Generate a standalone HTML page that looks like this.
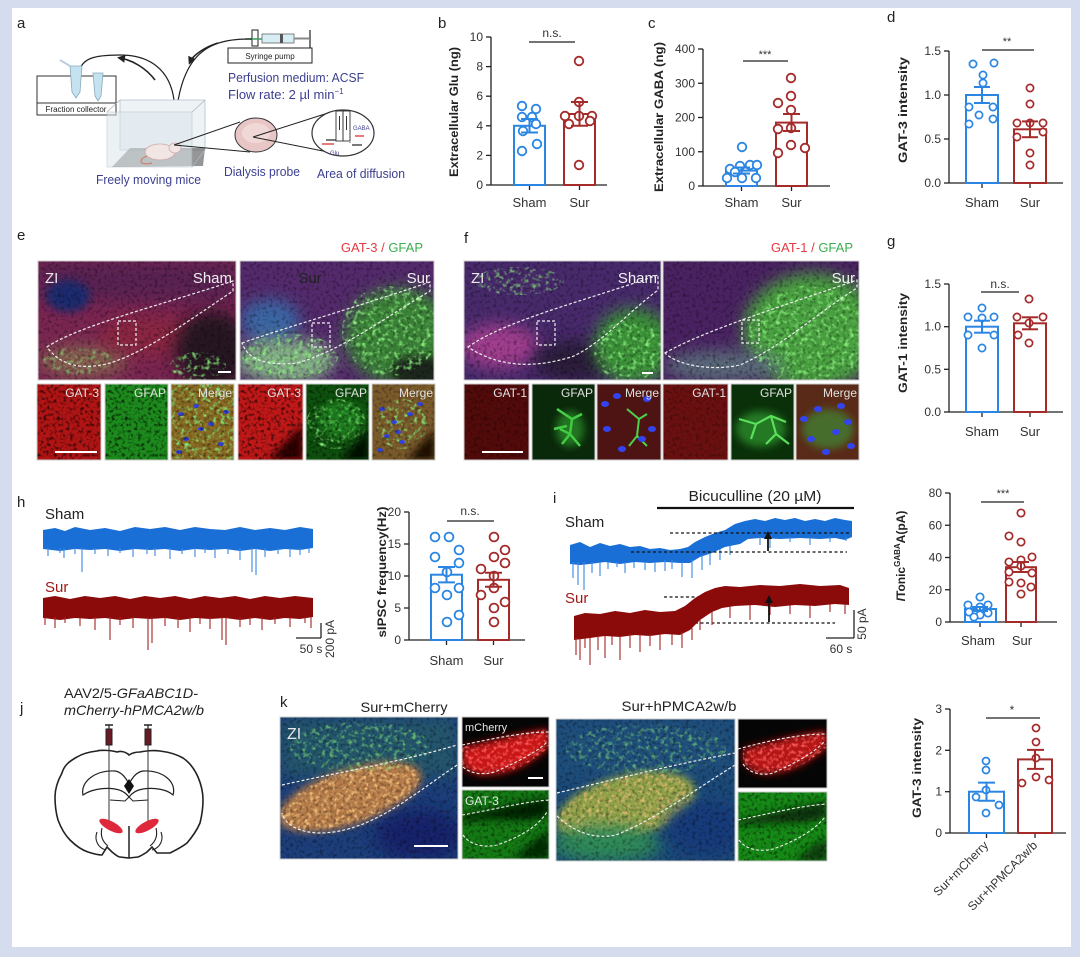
<!DOCTYPE html>
<html><head><meta charset="utf-8">
<style>
html,body{margin:0;padding:0;background:#d5dcee;}
svg{display:block;}
text{font-family:"Liberation Sans",Arial,sans-serif;}
</style></head>
<body>
<svg width="1080" height="957" viewBox="0 0 1080 957" xmlns="http://www.w3.org/2000/svg">
<defs>
<filter id="bl" x="-60%" y="-60%" width="220%" height="220%"><feGaussianBlur stdDeviation="8"/></filter>
<filter id="bl4" x="-60%" y="-60%" width="220%" height="220%"><feGaussianBlur stdDeviation="4"/></filter>
<filter id="spk" x="0" y="0" width="1" height="1"><feTurbulence type="fractalNoise" baseFrequency="0.3" numOctaves="2" seed="2"/><feColorMatrix type="matrix" values="0 0 0 0 0 0 0 0 0 0 0 0 0 0 0 -3 0 0 0 1.55"/></filter>
<filter id="gsp" x="0" y="0" width="1" height="1"><feTurbulence type="fractalNoise" baseFrequency="0.22" numOctaves="2" seed="7"/><feColorMatrix type="matrix" values="0 0 0 0 0.25 0 0 0 0 0.85 0 0 0 0 0.2 3.2 0 0 0 -1.6"/><feComposite in2="SourceAlpha" operator="in"/></filter>
<filter id="rsp" x="0" y="0" width="1" height="1"><feTurbulence type="fractalNoise" baseFrequency="0.28" numOctaves="2" seed="11"/><feColorMatrix type="matrix" values="0 0 0 0 0.95 0 0 0 0 0.1 0 0 0 0 0.1 3.2 0 0 0 -1.5"/><feComposite in2="SourceAlpha" operator="in"/></filter>
<filter id="osp" x="0" y="0" width="1" height="1"><feTurbulence type="fractalNoise" baseFrequency="0.25" numOctaves="2" seed="5"/><feColorMatrix type="matrix" values="0 0 0 0 0.95 0 0 0 0 0.55 0 0 0 0 0.2 3.2 0 0 0 -1.5"/><feComposite in2="SourceAlpha" operator="in"/></filter>
<marker id="ah" markerWidth="8" markerHeight="8" refX="5" refY="4" orient="auto" markerUnits="userSpaceOnUse"><path d="M0,0 L8,4 L0,8 Z" fill="#222"/></marker>
</defs>

<rect x="0" y="0" width="1080" height="957" fill="#d5dcee"/>
<rect x="12" y="8" width="1059" height="939" fill="#ffffff"/>

<!-- ================= Panel a ================= -->
<text x="17" y="28" font-size="15" fill="#222">a</text>
<rect x="228" y="48" width="84" height="15" fill="#fff" stroke="#222" stroke-width="1"/>
<text x="270" y="59" font-size="8" text-anchor="middle" fill="#222">Syringe pump</text>
<line x1="310" y1="30" x2="310" y2="48" stroke="#222" stroke-width="1.2"/>
<rect x="262" y="34" width="32" height="9" fill="#d8eef5" stroke="#666" stroke-width="0.8"/>
<rect x="280" y="34" width="3" height="9" fill="#555"/>
<line x1="294" y1="38.5" x2="309" y2="38.5" stroke="#888" stroke-width="2"/>
<rect x="252" y="30" width="6" height="16" fill="none" stroke="#222" stroke-width="1"/>
<line x1="245" y1="39" x2="262" y2="39" stroke="#3a9a5a" stroke-width="1.5"/>
<text x="228" y="82" font-size="13" fill="#3b3f8f" textLength="136" lengthAdjust="spacingAndGlyphs">Perfusion medium: ACSF</text>
<text x="228" y="99" font-size="13" fill="#3b3f8f">Flow rate: 2 µl min<tspan font-size="8" dy="-5">−1</tspan></text>
<path d="M252,39 C200,38 176,60 174,145" fill="none" stroke="#222" stroke-width="1.2"/>
<path d="M79,72 C82,58 95,55 120,55 C150,55 170,70 174,100" fill="none" stroke="#222" stroke-width="1.2"/>
<path d="M155,80 C146,68 132,60 120,58" fill="none" stroke="#222" stroke-width="1.6" marker-end="url(#ah)"/>
<path d="M218,43 C205,47 193,55 190,62" fill="none" stroke="#222" stroke-width="1.6" marker-end="url(#ah)"/>
<rect x="37" y="76" width="79" height="39" fill="#fff" stroke="#333" stroke-width="1"/>
<line x1="37" y1="103" x2="116" y2="103" stroke="#333" stroke-width="1"/>
<text x="76" y="112" font-size="8" text-anchor="middle" fill="#222">Fraction collector</text>
<path d="M70,66 L82,66 L80,92 L76,98 L72,92 Z" fill="#c4e2f0" stroke="#8ab" stroke-width="0.8"/>
<path d="M60,60 L70,66" stroke="#bcd" stroke-width="2"/>
<path d="M93,73 L103,73 L101,96 L98,101 L95,96 Z" fill="#c4e2f0" stroke="#8ab" stroke-width="0.8"/>
<polygon points="120,100 205,100 205,150 120,150" fill="#eef3f6" stroke="#b4c0cc" stroke-width="0.8"/>
<polygon points="130,148 205,148 203,166 112,167" fill="#6a6a6a" opacity="0.7"/>
<polygon points="107,112 192,112 192,167 107,167" fill="#dde6ec" opacity="0.55" stroke="#a8b6c2" stroke-width="0.8"/>
<line x1="107" y1="112" x2="120" y2="100" stroke="#a8b6c2" stroke-width="0.8"/>
<line x1="192" y1="112" x2="205" y2="100" stroke="#a8b6c2" stroke-width="0.8"/>
<line x1="192" y1="167" x2="205" y2="150" stroke="#a8b6c2" stroke-width="0.8"/>
<path d="M147,156 C137,160 140,166 152,163" fill="none" stroke="#d08070" stroke-width="1.2"/>
<ellipse cx="160" cy="152" rx="15" ry="8" fill="#f1e6e3" stroke="#caa" stroke-width="0.8"/>
<ellipse cx="175" cy="148" rx="6" ry="5" fill="#f1e6e3" stroke="#caa" stroke-width="0.8"/>
<line x1="174" y1="145" x2="240" y2="122" stroke="#222" stroke-width="1"/>
<line x1="174" y1="145" x2="250" y2="152" stroke="#222" stroke-width="1"/>
<ellipse cx="256" cy="135" rx="21" ry="17" fill="#e8c6c6" stroke="#333" stroke-width="1"/>
<ellipse cx="256" cy="133" rx="14" ry="10" fill="#f0d8d6"/>
<line x1="253" y1="137" x2="328" y2="113" stroke="#222" stroke-width="1"/>
<line x1="253" y1="137" x2="333" y2="153" stroke="#222" stroke-width="1"/>
<ellipse cx="343" cy="133" rx="31" ry="23" fill="#fff" stroke="#333" stroke-width="1.2"/>
<rect x="336" y="111" width="7" height="30" fill="none" stroke="#333" stroke-width="0.9"/>
<rect x="343" y="111" width="7" height="30" fill="none" stroke="#333" stroke-width="0.9"/>
<line x1="339.5" y1="116" x2="339.5" y2="130" stroke="#333" stroke-width="1"/>
<line x1="346.5" y1="130" x2="346.5" y2="116" stroke="#333" stroke-width="1"/>
<line x1="350" y1="130" x2="350" y2="143" stroke="#333" stroke-width="0.8" stroke-dasharray="1.5,1.5"/>
<line x1="326" y1="140" x2="336" y2="140" stroke="#222" stroke-width="1.2"/>
<line x1="322" y1="144" x2="334" y2="144" stroke="#d22" stroke-width="1.2"/>
<line x1="352" y1="145" x2="362" y2="145" stroke="#222" stroke-width="1.2"/>
<line x1="364" y1="136" x2="355" y2="136" stroke="#d22" stroke-width="1.2"/>
<text x="353" y="130" font-size="6" fill="#3b3f8f">GABA</text>
<text x="330" y="155" font-size="6" fill="#3b3f8f">Glu</text>
<text x="96" y="184" font-size="13" fill="#3b3f8f" textLength="105" lengthAdjust="spacingAndGlyphs">Freely moving mice</text>
<text x="224" y="176" font-size="13" fill="#3b3f8f" textLength="76" lengthAdjust="spacingAndGlyphs">Dialysis probe</text>
<text x="317" y="178" font-size="13" fill="#3b3f8f" textLength="88" lengthAdjust="spacingAndGlyphs">Area of diffusion</text>

<!-- ================= Panel b ================= -->
<text x="438" y="28" font-size="15" fill="#222">b</text>
<g stroke="#222" stroke-width="1.3">
<line x1="491" y1="37" x2="491" y2="185"/><line x1="491" y1="185" x2="607" y2="185"/>
<line x1="486" y1="185" x2="491" y2="185"/><line x1="486" y1="155.4" x2="491" y2="155.4"/><line x1="486" y1="125.8" x2="491" y2="125.8"/><line x1="486" y1="96.2" x2="491" y2="96.2"/><line x1="486" y1="66.6" x2="491" y2="66.6"/><line x1="486" y1="37" x2="491" y2="37"/>
<line x1="529.5" y1="185" x2="529.5" y2="190"/><line x1="579.5" y1="185" x2="579.5" y2="190"/>
<line x1="529" y1="42" x2="575" y2="42"/>
</g>
<g font-size="12" fill="#333" text-anchor="end">
<text x="483" y="189">0</text><text x="483" y="159.4">2</text><text x="483" y="129.8">4</text><text x="483" y="100.2">6</text><text x="483" y="70.6">8</text><text x="483" y="41">10</text>
</g>
<text x="552" y="37" font-size="12" fill="#333" text-anchor="middle">n.s.</text>
<rect x="514" y="125.8" width="31" height="59.2" fill="none" stroke="#2a86e2" stroke-width="2"/>
<rect x="564" y="114" width="31" height="71" fill="none" stroke="#a52a2a" stroke-width="2"/>
<g fill="#fff" stroke="#2a86e2" stroke-width="1.8">
<circle cx="522" cy="106" r="4.3"/><circle cx="536" cy="109" r="4.3"/><circle cx="522" cy="117" r="4.3"/><circle cx="532" cy="117" r="4.3"/><circle cx="523" cy="131" r="4.3"/><circle cx="536" cy="124" r="4.3"/><circle cx="522" cy="151" r="4.3"/><circle cx="537" cy="144" r="4.3"/>
</g>
<g fill="#fff" stroke="#a52a2a" stroke-width="1.8">
<circle cx="579" cy="61" r="4.3"/><circle cx="579" cy="102" r="4.3"/><circle cx="565" cy="116" r="4.3"/><circle cx="579" cy="116" r="4.3"/><circle cx="592" cy="116" r="4.3"/><circle cx="569" cy="124" r="4.3"/><circle cx="590" cy="121" r="4.3"/><circle cx="579" cy="165" r="4.3"/>
</g>
<g stroke="#2a86e2" stroke-width="2"><line x1="529.5" y1="119" x2="529.5" y2="132.5"/><line x1="521" y1="119" x2="538" y2="119"/><line x1="521" y1="132.5" x2="538" y2="132.5"/></g>
<g stroke="#a52a2a" stroke-width="2"><line x1="579.5" y1="102" x2="579.5" y2="125.8"/><line x1="571" y1="102" x2="588" y2="102"/><line x1="571" y1="125.8" x2="588" y2="125.8"/></g>
<text x="529.5" y="207" font-size="13" fill="#333" text-anchor="middle">Sham</text>
<text x="579.5" y="207" font-size="13" fill="#333" text-anchor="middle">Sur</text>
<text x="458" y="112" font-size="12" font-weight="bold" fill="#222" text-anchor="middle" transform="rotate(-90 458 112)" textLength="130" lengthAdjust="spacingAndGlyphs">Extracellular Glu (ng)</text>

<!-- ================= Panel c ================= -->
<text x="648" y="28" font-size="15" fill="#222">c</text>
<g stroke="#222" stroke-width="1.3">
<line x1="703" y1="49" x2="703" y2="186"/><line x1="703" y1="186" x2="830" y2="186"/>
<line x1="698" y1="186" x2="703" y2="186"/><line x1="698" y1="151.75" x2="703" y2="151.75"/><line x1="698" y1="117.5" x2="703" y2="117.5"/><line x1="698" y1="83.25" x2="703" y2="83.25"/><line x1="698" y1="49" x2="703" y2="49"/>
<line x1="741.5" y1="186" x2="741.5" y2="191"/><line x1="791.5" y1="186" x2="791.5" y2="191"/>
<line x1="743" y1="61" x2="788" y2="61"/>
</g>
<g font-size="12" fill="#333" text-anchor="end">
<text x="695" y="190">0</text><text x="695" y="155.75">100</text><text x="695" y="121.5">200</text><text x="695" y="87.25">300</text><text x="695" y="53">400</text>
</g>
<text x="765" y="58" font-size="11" fill="#333" text-anchor="middle">***</text>
<rect x="726" y="170.6" width="31" height="15.4" fill="none" stroke="#2a86e2" stroke-width="2"/>
<rect x="776" y="122.6" width="31" height="63.4" fill="none" stroke="#a52a2a" stroke-width="2"/>
<g fill="#fff" stroke="#2a86e2" stroke-width="1.8">
<circle cx="742" cy="147" r="4.3"/><circle cx="730" cy="169" r="4.3"/><circle cx="740" cy="166" r="4.3"/><circle cx="750" cy="165" r="4.3"/><circle cx="757" cy="165" r="4.3"/><circle cx="727" cy="178" r="4.3"/><circle cx="742" cy="178" r="4.3"/><circle cx="756" cy="178" r="4.3"/><circle cx="735" cy="172" r="4.3"/>
</g>
<g fill="#fff" stroke="#a52a2a" stroke-width="1.8">
<circle cx="791" cy="78" r="4.3"/><circle cx="791" cy="96" r="4.3"/><circle cx="778" cy="103" r="4.3"/><circle cx="791" cy="110" r="4.3"/><circle cx="778" cy="129" r="4.3"/><circle cx="791" cy="128" r="4.3"/><circle cx="778" cy="153" r="4.3"/><circle cx="791" cy="145" r="4.3"/><circle cx="805" cy="148" r="4.3"/>
</g>
<g stroke="#2a86e2" stroke-width="2"><line x1="741.5" y1="167.5" x2="741.5" y2="173.5"/><line x1="733" y1="167.5" x2="750" y2="167.5"/><line x1="733" y1="173.5" x2="750" y2="173.5"/></g>
<g stroke="#a52a2a" stroke-width="2"><line x1="791.5" y1="114" x2="791.5" y2="131"/><line x1="783" y1="114" x2="800" y2="114"/><line x1="783" y1="131" x2="800" y2="131"/></g>
<text x="741.5" y="207" font-size="13" fill="#333" text-anchor="middle">Sham</text>
<text x="791.5" y="207" font-size="13" fill="#333" text-anchor="middle">Sur</text>
<text x="663" y="117" font-size="12" font-weight="bold" fill="#222" text-anchor="middle" transform="rotate(-90 663 117)" textLength="150" lengthAdjust="spacingAndGlyphs">Extracellular GABA (ng)</text>

<!-- ================= Panel d ================= -->
<text x="887" y="22" font-size="15" fill="#222">d</text>
<g stroke="#222" stroke-width="1.3">
<line x1="949" y1="51" x2="949" y2="183"/><line x1="949" y1="183" x2="1063" y2="183"/>
<line x1="944" y1="183" x2="949" y2="183"/><line x1="944" y1="139" x2="949" y2="139"/><line x1="944" y1="95" x2="949" y2="95"/><line x1="944" y1="51" x2="949" y2="51"/>
<line x1="982" y1="183" x2="982" y2="188"/><line x1="1030" y1="183" x2="1030" y2="188"/>
<line x1="982" y1="50" x2="1034" y2="50"/>
</g>
<g font-size="12" fill="#333" text-anchor="end">
<text x="941" y="187">0.0</text><text x="941" y="143">0.5</text><text x="941" y="99">1.0</text><text x="941" y="55">1.5</text>
</g>
<text x="1007" y="45" font-size="11" fill="#333" text-anchor="middle">**</text>
<rect x="966" y="95" width="32" height="88" fill="none" stroke="#2a86e2" stroke-width="2"/>
<rect x="1014" y="129.3" width="32" height="53.7" fill="none" stroke="#a52a2a" stroke-width="2"/>
<g fill="#fff" stroke="#2a86e2" stroke-width="1.7">
<circle cx="973" cy="64" r="3.6"/><circle cx="994" cy="63" r="3.6"/><circle cx="983" cy="75" r="3.6"/><circle cx="983" cy="83" r="3.6"/><circle cx="969" cy="107" r="3.6"/><circle cx="993" cy="107" r="3.6"/><circle cx="979" cy="115" r="3.6"/><circle cx="993" cy="119" r="3.6"/><circle cx="969" cy="124" r="3.6"/>
</g>
<g fill="#fff" stroke="#a52a2a" stroke-width="1.7">
<circle cx="1030" cy="88" r="3.6"/><circle cx="1030" cy="104" r="3.6"/><circle cx="1017" cy="123" r="3.6"/><circle cx="1030" cy="123" r="3.6"/><circle cx="1043" cy="123" r="3.6"/><circle cx="1043" cy="132" r="3.6"/><circle cx="1017" cy="137" r="3.6"/><circle cx="1030" cy="153" r="3.6"/><circle cx="1030" cy="165" r="3.6"/>
</g>
<g stroke="#2a86e2" stroke-width="2"><line x1="982" y1="87" x2="982" y2="103"/><line x1="974" y1="87" x2="990" y2="87"/><line x1="974" y1="103" x2="990" y2="103"/></g>
<g stroke="#a52a2a" stroke-width="2"><line x1="1030" y1="121.4" x2="1030" y2="137.2"/><line x1="1022" y1="121.4" x2="1038" y2="121.4"/><line x1="1022" y1="137.2" x2="1038" y2="137.2"/></g>
<text x="982" y="207" font-size="13" fill="#333" text-anchor="middle">Sham</text>
<text x="1030" y="207" font-size="13" fill="#333" text-anchor="middle">Sur</text>
<text x="907" y="110" font-size="12" font-weight="bold" fill="#222" text-anchor="middle" transform="rotate(-90 907 110)" textLength="106" lengthAdjust="spacingAndGlyphs">GAT-3 intensity</text>

<!-- ================= Panel g ================= -->
<text x="887" y="246" font-size="15" fill="#222">g</text>
<g stroke="#222" stroke-width="1.3">
<line x1="949" y1="284" x2="949" y2="412"/><line x1="949" y1="412" x2="1063" y2="412"/>
<line x1="944" y1="412" x2="949" y2="412"/><line x1="944" y1="369.3" x2="949" y2="369.3"/><line x1="944" y1="326.7" x2="949" y2="326.7"/><line x1="944" y1="284" x2="949" y2="284"/>
<line x1="982" y1="412" x2="982" y2="417"/><line x1="1030" y1="412" x2="1030" y2="417"/>
<line x1="981" y1="292" x2="1019" y2="292"/>
</g>
<g font-size="12" fill="#333" text-anchor="end">
<text x="941" y="416">0.0</text><text x="941" y="373.3">0.5</text><text x="941" y="330.7">1.0</text><text x="941" y="288">1.5</text>
</g>
<text x="1000" y="288" font-size="12" fill="#333" text-anchor="middle">n.s.</text>
<rect x="966" y="326.7" width="32" height="85.3" fill="none" stroke="#2a86e2" stroke-width="2"/>
<rect x="1014" y="323.3" width="32" height="88.7" fill="none" stroke="#a52a2a" stroke-width="2"/>
<g fill="#fff" stroke="#2a86e2" stroke-width="1.7">
<circle cx="982" cy="308" r="3.6"/><circle cx="968" cy="317" r="3.6"/><circle cx="982" cy="318" r="3.6"/><circle cx="994" cy="317" r="3.6"/><circle cx="968" cy="335" r="3.6"/><circle cx="994" cy="335" r="3.6"/><circle cx="982" cy="348" r="3.6"/>
</g>
<g fill="#fff" stroke="#a52a2a" stroke-width="1.7">
<circle cx="1029" cy="299" r="3.6"/><circle cx="1017" cy="317" r="3.6"/><circle cx="1043" cy="317" r="3.6"/><circle cx="1029" cy="323" r="3.6"/><circle cx="1018" cy="335" r="3.6"/><circle cx="1029" cy="343" r="3.6"/>
</g>
<g stroke="#2a86e2" stroke-width="2"><line x1="982" y1="320.7" x2="982" y2="332.7"/><line x1="974" y1="320.7" x2="990" y2="320.7"/><line x1="974" y1="332.7" x2="990" y2="332.7"/></g>
<g stroke="#a52a2a" stroke-width="2"><line x1="1030" y1="317.3" x2="1030" y2="329.3"/><line x1="1022" y1="317.3" x2="1038" y2="317.3"/><line x1="1022" y1="329.3" x2="1038" y2="329.3"/></g>
<text x="982" y="436" font-size="13" fill="#333" text-anchor="middle">Sham</text>
<text x="1030" y="436" font-size="13" fill="#333" text-anchor="middle">Sur</text>
<text x="907" y="343" font-size="12" font-weight="bold" fill="#222" text-anchor="middle" transform="rotate(-90 907 343)" textLength="100" lengthAdjust="spacingAndGlyphs">GAT-1 intensity</text>

<!-- ================= Panel e ================= -->
<text x="17" y="240" font-size="15" fill="#222">e</text>
<text x="423" y="252" font-size="13" text-anchor="end"><tspan fill="#e63a40">GAT-3 / </tspan><tspan fill="#3cae50">GFAP</tspan></text>
<svg x="38" y="261" width="198" height="119">
<rect width="198" height="119" fill="#7a2652"/>
<rect x="0" y="0" width="198" height="40" fill="#5a2252" filter="url(#bl)"/>
<ellipse cx="30" cy="35" rx="22" ry="16" fill="#1e2c6e" filter="url(#bl4)"/>
<ellipse cx="45" cy="100" rx="45" ry="16" fill="#8a7250" opacity="0.75" filter="url(#bl)"/>
<ellipse cx="110" cy="75" rx="50" ry="20" fill="#962838" opacity="0.6" filter="url(#bl)"/>
<ellipse cx="175" cy="90" rx="38" ry="40" fill="#281624" filter="url(#bl)"/>
<ellipse cx="160" cy="105" rx="28" ry="14" fill="#000" filter="url(#gsp)"/>
<ellipse cx="40" cy="100" rx="35" ry="14" fill="#000" filter="url(#gsp)" opacity="0.6"/>
<rect width="198" height="119" filter="url(#spk)" opacity="0.35"/>
<path d="M9,86 C40,65 120,45 195,20 L195,30 C150,60 110,90 72,102 C50,108 25,108 9,86 Z" fill="none" stroke="#eee" stroke-width="1.2" stroke-dasharray="3,2"/>
<rect x="80" y="60" width="18" height="24" fill="none" stroke="#eee" stroke-width="1.2" stroke-dasharray="3,2"/>
<line x1="180" y1="111" x2="193" y2="111" stroke="#fff" stroke-width="2"/>
<text x="7" y="22" font-size="15" fill="#e8e8e8">ZI</text>
<text x="194" y="22" font-size="15" fill="#f0f0f0" text-anchor="end">Sham</text>
</svg>
<svg x="240" y="261" width="194" height="119">
<rect width="194" height="119" fill="#542a6c"/>
<ellipse cx="30" cy="60" rx="30" ry="22" fill="#3a66a4" filter="url(#bl)"/>
<ellipse cx="45" cy="100" rx="50" ry="22" fill="#84ae88" filter="url(#bl)"/>
<ellipse cx="160" cy="75" rx="55" ry="48" fill="#3a8238" filter="url(#bl)"/>
<ellipse cx="180" cy="110" rx="30" ry="15" fill="#1a261a" filter="url(#bl4)"/>
<ellipse cx="150" cy="70" rx="48" ry="45" fill="#000" filter="url(#gsp)"/>
<ellipse cx="50" cy="95" rx="48" ry="22" fill="#000" filter="url(#gsp)"/>
<rect width="194" height="119" filter="url(#spk)" opacity="0.35"/>
<path d="M2,82 C50,65 120,45 190,21 L190,30 C140,60 100,90 57,102 C30,105 8,100 2,82 Z" fill="none" stroke="#eee" stroke-width="1.2" stroke-dasharray="3,2"/>
<rect x="72" y="62" width="18" height="24" fill="none" stroke="#eee" stroke-width="1.2" stroke-dasharray="3,2"/>
<text x="70" y="22" font-size="15" fill="#222" text-anchor="middle">Sur</text>
<text x="190" y="22" font-size="15" fill="#f0f0f0" text-anchor="end">Sur</text>
</svg>
<g stroke="#ccc" stroke-width="1" fill="none"><rect x="38" y="261" width="198" height="119"/><rect x="240" y="261" width="194" height="119"/></g>
<svg x="37" y="384" width="64" height="76"><rect width="64" height="76" fill="#b01414"/><rect width="64" height="76" filter="url(#spk)" opacity="0.7"/><line x1="18" y1="68" x2="60" y2="68" stroke="#fff" stroke-width="2"/><text x="62" y="13" font-size="12" fill="#e0e0e0" text-anchor="end">GAT-3</text></svg>
<svg x="105" y="384" width="63" height="76"><rect width="63" height="76" fill="#1c8a1c"/><rect width="63" height="76" filter="url(#spk)" opacity="0.7"/><text x="61" y="13" font-size="12" fill="#e0e0e0" text-anchor="end">GFAP</text></svg>
<svg x="171" y="384" width="63" height="76"><rect width="63" height="76" fill="#8a6a22"/><rect width="63" height="76" fill="#000" filter="url(#gsp)"/><g fill="#3344dd"><ellipse cx="10" cy="30" rx="3" ry="2"/><ellipse cx="25" cy="22" rx="3" ry="2"/><ellipse cx="40" cy="40" rx="3" ry="2"/><ellipse cx="15" cy="55" rx="3" ry="2"/><ellipse cx="50" cy="60" rx="3" ry="2"/><ellipse cx="30" cy="45" rx="3" ry="2"/><ellipse cx="55" cy="28" rx="3" ry="2"/><ellipse cx="8" cy="68" rx="3" ry="2"/></g><rect width="63" height="76" filter="url(#spk)" opacity="0.45"/><text x="61" y="13" font-size="12" fill="#e0e0e0" text-anchor="end">Merge</text></svg>
<svg x="238" y="384" width="65" height="76"><rect width="65" height="76" fill="#c01818"/><path d="M30,76 L65,40 L65,76 Z" fill="#2a0505" filter="url(#bl4)"/><rect width="65" height="76" filter="url(#spk)" opacity="0.7"/><text x="63" y="13" font-size="12" fill="#e0e0e0" text-anchor="end">GAT-3</text></svg>
<svg x="306" y="384" width="63" height="76"><rect width="63" height="76" fill="#0e500e"/><ellipse cx="30" cy="40" rx="30" ry="25" fill="#000" filter="url(#gsp)"/><ellipse cx="35" cy="35" rx="22" ry="18" fill="#2ea82e" opacity="0.5" filter="url(#bl4)"/><path d="M35,76 L63,45 L63,76 Z" fill="#020802" filter="url(#bl4)"/><rect width="63" height="76" filter="url(#spk)" opacity="0.5"/><text x="61" y="13" font-size="12" fill="#e0e0e0" text-anchor="end">GFAP</text></svg>
<svg x="372" y="384" width="63" height="76"><rect width="63" height="76" fill="#7a5a2a"/><ellipse cx="30" cy="40" rx="25" ry="25" fill="#000" filter="url(#gsp)"/><path d="M35,76 L63,45 L63,76 Z" fill="#1a0a05" filter="url(#bl4)"/><g fill="#3344dd"><ellipse cx="10" cy="25" rx="3" ry="2"/><ellipse cx="22" cy="38" rx="3" ry="2"/><ellipse cx="38" cy="30" rx="3" ry="2"/><ellipse cx="15" cy="52" rx="3" ry="2"/><ellipse cx="30" cy="58" rx="3" ry="2"/><ellipse cx="48" cy="20" rx="3" ry="2"/><ellipse cx="8" cy="66" rx="3" ry="2"/><ellipse cx="26" cy="48" rx="3" ry="2"/></g><rect width="63" height="76" filter="url(#spk)" opacity="0.35"/><text x="61" y="13" font-size="12" fill="#e0e0e0" text-anchor="end">Merge</text></svg>
<g stroke="#ccc" stroke-width="1" fill="none"><rect x="37" y="384" width="64" height="76"/><rect x="105" y="384" width="63" height="76"/><rect x="171" y="384" width="63" height="76"/><rect x="238" y="384" width="65" height="76"/><rect x="306" y="384" width="63" height="76"/><rect x="372" y="384" width="63" height="76"/></g>

<!-- ================= Panel f ================= -->
<text x="464" y="243" font-size="15" fill="#222">f</text>
<text x="853" y="252" font-size="13" text-anchor="end"><tspan fill="#e63a40">GAT-1 / </tspan><tspan fill="#3cae50">GFAP</tspan></text>
<svg x="464" y="261" width="197" height="119">
<rect width="197" height="119" fill="#482a6c"/>
<ellipse cx="35" cy="85" rx="40" ry="22" fill="#a03e8e" filter="url(#bl)"/>
<ellipse cx="110" cy="100" rx="40" ry="20" fill="#2a1a3a" filter="url(#bl)"/>
<ellipse cx="170" cy="85" rx="40" ry="38" fill="#3a9238" filter="url(#bl)"/>
<ellipse cx="165" cy="90" rx="35" ry="30" fill="#000" filter="url(#gsp)"/>
<ellipse cx="55" cy="20" rx="45" ry="14" fill="#000" filter="url(#gsp)" opacity="0.8"/>
<rect width="197" height="119" filter="url(#spk)" opacity="0.35"/>
<path d="M4,86 C40,60 120,40 194,14 L194,29 C160,55 140,80 110,95 C80,105 40,110 4,86 Z" fill="none" stroke="#eee" stroke-width="1.2" stroke-dasharray="3,2"/>
<rect x="73" y="60" width="18" height="24" fill="none" stroke="#eee" stroke-width="1.2" stroke-dasharray="3,2"/>
<line x1="178" y1="112" x2="189" y2="112" stroke="#fff" stroke-width="2"/>
<text x="7" y="22" font-size="15" fill="#e8e8e8">ZI</text>
<text x="193" y="22" font-size="15" fill="#f0f0f0" text-anchor="end">Sham</text>
</svg>
<svg x="663" y="261" width="196" height="119">
<rect width="196" height="119" fill="#4a2262"/>
<ellipse cx="150" cy="70" rx="70" ry="58" fill="#48a040" filter="url(#bl)"/>
<ellipse cx="60" cy="105" rx="60" ry="16" fill="#5a6a7a" filter="url(#bl)"/>
<ellipse cx="145" cy="75" rx="60" ry="50" fill="#000" filter="url(#gsp)"/>
<rect width="196" height="119" filter="url(#spk)" opacity="0.35"/>
<path d="M2,92 C40,70 120,45 194,19 L194,27 C150,55 120,85 77,104 C50,110 15,105 2,92 Z" fill="none" stroke="#eee" stroke-width="1.2" stroke-dasharray="3,2"/>
<rect x="79" y="59" width="17" height="23" fill="none" stroke="#eee" stroke-width="1.2" stroke-dasharray="3,2"/>
<text x="192" y="22" font-size="15" fill="#f0f0f0" text-anchor="end">Sur</text>
</svg>
<g stroke="#ccc" stroke-width="1" fill="none"><rect x="464" y="261" width="197" height="119"/><rect x="663" y="261" width="196" height="119"/></g>
<svg x="464" y="384" width="65" height="76"><rect width="65" height="76" fill="#520a0a"/><rect width="65" height="76" filter="url(#spk)" opacity="0.35"/><line x1="18" y1="68" x2="59" y2="68" stroke="#fff" stroke-width="2"/><text x="63" y="13" font-size="12" fill="#e0e0e0" text-anchor="end">GAT-1</text></svg>
<svg x="532" y="384" width="63" height="76"><rect width="63" height="76" fill="#0a280a"/><g stroke="#4ad24a" stroke-width="2.5" fill="none"><path d="M25,25 L40,35 L50,30 M40,35 L38,50 L30,60 M38,50 L48,62 M38,50 L28,45"/><path d="M22,45 L35,42"/></g><ellipse cx="38" cy="45" rx="14" ry="18" fill="#3ac23a" opacity="0.5" filter="url(#bl4)"/><text x="61" y="13" font-size="12" fill="#e0e0e0" text-anchor="end">GFAP</text></svg>
<svg x="597" y="384" width="64" height="76"><rect width="64" height="76" fill="#4e1414"/><g stroke="#4ad24a" stroke-width="2" fill="none"><path d="M30,25 L42,35 L50,30 M42,35 L40,52 L32,62 M40,52 L50,62"/></g><g fill="#3344ee"><ellipse cx="8" cy="20" rx="4" ry="3"/><ellipse cx="20" cy="12" rx="4" ry="3"/><ellipse cx="50" cy="15" rx="4" ry="3"/><ellipse cx="10" cy="45" rx="4" ry="3"/><ellipse cx="55" cy="45" rx="4" ry="3"/><ellipse cx="25" cy="65" rx="4" ry="3"/><ellipse cx="45" cy="55" rx="4" ry="3"/></g><text x="62" y="13" font-size="12" fill="#e0e0e0" text-anchor="end">Merge</text></svg>
<svg x="663" y="384" width="65" height="76"><rect width="65" height="76" fill="#6a1010"/><rect width="65" height="76" filter="url(#spk)" opacity="0.3"/><text x="63" y="13" font-size="12" fill="#e0e0e0" text-anchor="end">GAT-1</text></svg>
<svg x="731" y="384" width="63" height="76"><rect width="63" height="76" fill="#0a300a"/><ellipse cx="30" cy="45" rx="25" ry="18" fill="#3ab83a" opacity="0.55" filter="url(#bl4)"/><g stroke="#5ae05a" stroke-width="2.2" fill="none"><path d="M8,35 L25,40 L40,32 L55,38 M25,40 L20,55 M40,32 L45,50 L58,60 M45,50 L35,60"/></g><text x="61" y="13" font-size="12" fill="#e0e0e0" text-anchor="end">GFAP</text></svg>
<svg x="796" y="384" width="63" height="76"><rect width="63" height="76" fill="#5a2a18"/><ellipse cx="32" cy="45" rx="26" ry="20" fill="#3a9a3a" opacity="0.6" filter="url(#bl4)"/><g fill="#3344ee"><ellipse cx="8" cy="35" rx="4" ry="3"/><ellipse cx="22" cy="25" rx="4" ry="3"/><ellipse cx="45" cy="22" rx="4" ry="3"/><ellipse cx="15" cy="55" rx="4" ry="3"/><ellipse cx="40" cy="48" rx="4" ry="3"/><ellipse cx="55" cy="62" rx="4" ry="3"/><ellipse cx="30" cy="68" rx="4" ry="3"/><ellipse cx="52" cy="38" rx="4" ry="3"/></g><text x="61" y="13" font-size="12" fill="#e0e0e0" text-anchor="end">Merge</text></svg>
<g stroke="#ccc" stroke-width="1" fill="none"><rect x="464" y="384" width="65" height="76"/><rect x="532" y="384" width="63" height="76"/><rect x="597" y="384" width="64" height="76"/><rect x="663" y="384" width="65" height="76"/><rect x="731" y="384" width="63" height="76"/><rect x="796" y="384" width="63" height="76"/></g>

<!-- ================= Panel h ================= -->
<text x="17" y="507" font-size="15" fill="#222">h</text>
<text x="45" y="519" font-size="15" fill="#222">Sham</text>
<polygon points="43,530 55,528 65,531 75,527 90,530 105,528 120,531 135,527 150,529 165,527 180,530 195,527 210,529 225,530 240,527 255,530 270,528 285,530 300,527 313,529 313,548 300,550 285,549 270,551 255,549 240,551 225,549 210,550 195,549 180,551 165,549 150,550 135,549 120,551 105,549 90,550 75,549 60,551 43,549" fill="#1a6fd6"/>
<g stroke="#3a88e2" stroke-width="1.1">
<line x1="48" y1="548" x2="48" y2="556"/><line x1="60" y1="548" x2="60" y2="553"/><line x1="64" y1="548" x2="64" y2="558"/><line x1="75" y1="548" x2="75" y2="554"/><line x1="82" y1="548" x2="82" y2="572"/><line x1="95" y1="548" x2="95" y2="554"/><line x1="108" y1="548" x2="108" y2="556"/><line x1="120" y1="548" x2="120" y2="553"/><line x1="133" y1="548" x2="133" y2="557"/><line x1="147" y1="548" x2="147" y2="554"/><line x1="155" y1="548" x2="155" y2="556"/><line x1="170" y1="548" x2="170" y2="559"/><line x1="182" y1="548" x2="182" y2="554"/><line x1="195" y1="548" x2="195" y2="557"/><line x1="205" y1="548" x2="205" y2="553"/><line x1="215" y1="548" x2="215" y2="558"/><line x1="228" y1="548" x2="228" y2="554"/><line x1="240" y1="548" x2="240" y2="560"/><line x1="252" y1="548" x2="252" y2="572"/><line x1="256" y1="548" x2="256" y2="575"/><line x1="265" y1="548" x2="265" y2="557"/><line x1="278" y1="548" x2="278" y2="554"/><line x1="290" y1="548" x2="290" y2="557"/><line x1="300" y1="548" x2="300" y2="555"/><line x1="309" y1="548" x2="309" y2="553"/>
</g>
<text x="45" y="592" font-size="15" fill="#a01818">Sur</text>
<polygon points="43,598 55,596 70,599 85,596 100,598 115,596 130,599 145,596 160,598 175,596 190,599 205,596 220,598 235,596 250,599 265,596 280,598 295,596 313,598 313,617 300,619 285,618 270,620 255,618 240,620 225,618 210,619 195,618 180,620 165,618 150,619 135,618 120,620 105,618 90,619 75,618 60,620 43,618" fill="#8b0a0a"/>
<g stroke="#a42424" stroke-width="1.1">
<line x1="45" y1="617" x2="45" y2="625"/><line x1="55" y1="617" x2="55" y2="628"/><line x1="65" y1="617" x2="65" y2="623"/><line x1="80" y1="617" x2="80" y2="626"/><line x1="95" y1="617" x2="95" y2="630"/><line x1="110" y1="617" x2="110" y2="640"/><line x1="120" y1="617" x2="120" y2="625"/><line x1="133" y1="617" x2="133" y2="628"/><line x1="148" y1="617" x2="148" y2="650"/><line x1="152" y1="617" x2="152" y2="643"/><line x1="165" y1="617" x2="165" y2="626"/><line x1="178" y1="617" x2="178" y2="628"/><line x1="190" y1="617" x2="190" y2="632"/><line x1="200" y1="617" x2="200" y2="624"/><line x1="210" y1="617" x2="210" y2="629"/><line x1="222" y1="617" x2="222" y2="640"/><line x1="226" y1="617" x2="226" y2="645"/><line x1="240" y1="617" x2="240" y2="627"/><line x1="250" y1="617" x2="250" y2="625"/><line x1="262" y1="617" x2="262" y2="630"/><line x1="275" y1="617" x2="275" y2="624"/><line x1="290" y1="617" x2="290" y2="627"/><line x1="305" y1="617" x2="305" y2="623"/><line x1="311" y1="617" x2="311" y2="628"/>
</g>
<g stroke="#222" stroke-width="1.3"><line x1="296" y1="638" x2="321" y2="638"/><line x1="321" y1="623" x2="321" y2="638"/></g>
<text x="311" y="653" font-size="12" fill="#333" text-anchor="middle">50 s</text>
<text x="334" y="639" font-size="12" fill="#333" text-anchor="middle" transform="rotate(-90 334 639)">200 pA</text>
<g stroke="#222" stroke-width="1.3">
<line x1="409" y1="512" x2="409" y2="640"/><line x1="409" y1="640" x2="525" y2="640"/>
<line x1="404" y1="640" x2="409" y2="640"/><line x1="404" y1="608" x2="409" y2="608"/><line x1="404" y1="576" x2="409" y2="576"/><line x1="404" y1="544" x2="409" y2="544"/><line x1="404" y1="512" x2="409" y2="512"/>
<line x1="446.5" y1="640" x2="446.5" y2="645"/><line x1="493.5" y1="640" x2="493.5" y2="645"/>
<line x1="447" y1="521" x2="494" y2="521"/>
</g>
<g font-size="12" fill="#333" text-anchor="end">
<text x="401" y="644">0</text><text x="401" y="612">5</text><text x="401" y="580">10</text><text x="401" y="548">15</text><text x="401" y="516">20</text>
</g>
<text x="470" y="515" font-size="12" fill="#333" text-anchor="middle">n.s.</text>
<rect x="431" y="574.7" width="31" height="65.3" fill="none" stroke="#2a86e2" stroke-width="2"/>
<rect x="478" y="579.8" width="31" height="60.2" fill="none" stroke="#a52a2a" stroke-width="2"/>
<g fill="#fff" stroke="#2a86e2" stroke-width="1.8">
<circle cx="435" cy="537" r="4.4"/><circle cx="449" cy="537" r="4.4"/><circle cx="459" cy="550" r="4.4"/><circle cx="435" cy="557" r="4.4"/><circle cx="459" cy="563" r="4.4"/><circle cx="447" cy="572" r="4.4"/><circle cx="435" cy="588" r="4.4"/><circle cx="459" cy="588" r="4.4"/><circle cx="447" cy="595" r="4.4"/><circle cx="459" cy="615" r="4.4"/><circle cx="447" cy="622" r="4.4"/>
</g>
<g fill="#fff" stroke="#a52a2a" stroke-width="1.8">
<circle cx="494" cy="537" r="4.4"/><circle cx="505" cy="550" r="4.4"/><circle cx="494" cy="557" r="4.4"/><circle cx="505" cy="563" r="4.4"/><circle cx="481" cy="569" r="4.4"/><circle cx="494" cy="576" r="4.4"/><circle cx="481" cy="595" r="4.4"/><circle cx="494" cy="588" r="4.4"/><circle cx="505" cy="602" r="4.4"/><circle cx="494" cy="608" r="4.4"/><circle cx="494" cy="622" r="4.4"/>
</g>
<g stroke="#2a86e2" stroke-width="2"><line x1="446.5" y1="567" x2="446.5" y2="582.4"/><line x1="438" y1="567" x2="455" y2="567"/><line x1="438" y1="582.4" x2="455" y2="582.4"/></g>
<g stroke="#a52a2a" stroke-width="2"><line x1="493.5" y1="572.8" x2="493.5" y2="586.8"/><line x1="485" y1="572.8" x2="502" y2="572.8"/><line x1="485" y1="586.8" x2="502" y2="586.8"/></g>
<text x="446.5" y="665" font-size="13" fill="#333" text-anchor="middle">Sham</text>
<text x="493.5" y="665" font-size="13" fill="#333" text-anchor="middle">Sur</text>
<text x="386" y="572" font-size="12" font-weight="bold" fill="#222" text-anchor="middle" transform="rotate(-90 386 572)" textLength="131" lengthAdjust="spacingAndGlyphs">sIPSC frequency(Hz)</text>

<!-- ================= Panel i ================= -->
<text x="553" y="503" font-size="15" fill="#222">i</text>
<text x="755" y="501" font-size="15" fill="#222" text-anchor="middle" textLength="133" lengthAdjust="spacingAndGlyphs">Bicuculline (20 µM)</text>
<line x1="657" y1="508" x2="854" y2="508" stroke="#111" stroke-width="2.2"/>
<text x="565" y="527" font-size="15" fill="#222">Sham</text>
<polygon points="570,545 580,542 590,547 600,543 610,546 620,544 630,547 640,546 650,549 660,548 670,550 680,549 688,547 695,542 705,537 715,533 725,530 735,524 745,521 755,519 765,521 775,518 785,520 795,518 805,521 815,519 825,521 835,518 845,520 852,521 852,537 845,540 835,538 820,539 800,538 780,539 760,538 748,539 740,544 725,547 712,553 700,557 690,563 680,563 665,562 650,563 635,562 620,564 605,562 590,564 580,565 570,564" fill="#1a6fd6"/>
<g stroke="#3a88e2" stroke-width="1.1">
<line x1="573" y1="562" x2="573" y2="578"/><line x1="578" y1="562" x2="578" y2="585"/><line x1="584" y1="562" x2="584" y2="590"/><line x1="592" y1="562" x2="592" y2="573"/><line x1="600" y1="562" x2="600" y2="576"/><line x1="608" y1="562" x2="608" y2="569"/><line x1="617" y1="562" x2="617" y2="567"/><line x1="625" y1="562" x2="625" y2="573"/><line x1="634" y1="562" x2="634" y2="568"/><line x1="645" y1="562" x2="645" y2="570"/><line x1="655" y1="562" x2="655" y2="572"/><line x1="665" y1="560" x2="665" y2="571"/><line x1="672" y1="560" x2="672" y2="569"/><line x1="682" y1="562" x2="682" y2="577"/><line x1="692" y1="560" x2="692" y2="578"/><line x1="702" y1="555" x2="702" y2="570"/><line x1="710" y1="553" x2="710" y2="565"/><line x1="720" y1="549" x2="720" y2="560"/><line x1="730" y1="545" x2="730" y2="555"/><line x1="760" y1="537" x2="760" y2="545"/><line x1="770" y1="537" x2="770" y2="548"/><line x1="790" y1="537" x2="790" y2="542"/><line x1="810" y1="537" x2="810" y2="545"/><line x1="830" y1="537" x2="830" y2="542"/><line x1="846" y1="537" x2="846" y2="541"/>
</g>
<g stroke="#111" stroke-width="1.3" stroke-dasharray="3,2.5">
<line x1="631" y1="552" x2="847" y2="552"/><line x1="670" y1="533" x2="850" y2="533"/>
<line x1="629" y1="623" x2="835" y2="623"/><line x1="664" y1="597" x2="847" y2="597"/>
</g>
<line x1="768" y1="551" x2="768" y2="537" stroke="#111" stroke-width="1.8"/><polygon points="764,539 768,531 772,539" fill="#111"/>
<text x="565" y="603" font-size="15" fill="#a01818">Sur</text>
<polygon points="574,616 585,613 600,614 615,611 630,613 645,610 660,612 675,611 685,606 695,598 705,592 715,588 725,586 740,587 760,585 780,586 800,584 820,586 840,585 849,588 849,605 835,604 815,606 795,605 775,607 755,605 735,606 722,608 712,612 700,620 690,630 680,635 665,634 650,636 635,635 620,637 605,636 590,638 574,640" fill="#8b0a0a"/>
<g stroke="#a42424" stroke-width="1.1">
<line x1="576" y1="638" x2="576" y2="655"/><line x1="580" y1="638" x2="580" y2="660"/><line x1="585" y1="638" x2="585" y2="648"/><line x1="590" y1="638" x2="590" y2="665"/><line x1="598" y1="636" x2="598" y2="650"/><line x1="605" y1="636" x2="605" y2="658"/><line x1="612" y1="636" x2="612" y2="645"/><line x1="620" y1="636" x2="620" y2="660"/><line x1="630" y1="634" x2="630" y2="648"/><line x1="640" y1="634" x2="640" y2="652"/><line x1="650" y1="634" x2="650" y2="646"/><line x1="660" y1="634" x2="660" y2="650"/><line x1="672" y1="634" x2="672" y2="645"/><line x1="682" y1="632" x2="682" y2="648"/><line x1="692" y1="628" x2="692" y2="640"/><line x1="700" y1="620" x2="700" y2="630"/><line x1="712" y1="612" x2="712" y2="625"/><line x1="730" y1="606" x2="730" y2="618"/><line x1="750" y1="605" x2="750" y2="620"/><line x1="770" y1="605" x2="770" y2="615"/><line x1="790" y1="605" x2="790" y2="614"/><line x1="810" y1="605" x2="810" y2="618"/><line x1="830" y1="604" x2="830" y2="612"/><line x1="845" y1="604" x2="845" y2="614"/>
</g>
<line x1="769" y1="622" x2="769" y2="601" stroke="#111" stroke-width="1.8"/><polygon points="765,603 769,595 773,603" fill="#111"/>
<g stroke="#222" stroke-width="1.3"><line x1="826" y1="638" x2="854" y2="638"/><line x1="854" y1="610" x2="854" y2="638"/></g>
<text x="841" y="653" font-size="12" fill="#333" text-anchor="middle">60 s</text>
<text x="866" y="624" font-size="12" fill="#333" text-anchor="middle" transform="rotate(-90 866 624)">50 pA</text>
<g stroke="#222" stroke-width="1.3">
<line x1="950" y1="493" x2="950" y2="622"/><line x1="950" y1="622" x2="1057" y2="622"/>
<line x1="945" y1="622" x2="950" y2="622"/><line x1="945" y1="589.75" x2="950" y2="589.75"/><line x1="945" y1="557.5" x2="950" y2="557.5"/><line x1="945" y1="525.25" x2="950" y2="525.25"/><line x1="945" y1="493" x2="950" y2="493"/>
<line x1="980" y1="622" x2="980" y2="627"/><line x1="1021" y1="622" x2="1021" y2="627"/>
<line x1="981" y1="502" x2="1024" y2="502"/>
</g>
<g font-size="12" fill="#333" text-anchor="end">
<text x="942" y="626">0</text><text x="942" y="593.75">20</text><text x="942" y="561.5">40</text><text x="942" y="529.25">60</text><text x="942" y="497">80</text>
</g>
<text x="1003" y="497" font-size="11" fill="#333" text-anchor="middle">***</text>
<rect x="965" y="609" width="31" height="13" fill="none" stroke="#2a86e2" stroke-width="2"/>
<rect x="1006" y="567.2" width="30" height="54.8" fill="none" stroke="#a52a2a" stroke-width="2"/>
<g fill="#fff" stroke="#2a86e2" stroke-width="1.7">
<circle cx="980" cy="597" r="3.7"/><circle cx="968" cy="605" r="3.7"/><circle cx="980" cy="607" r="3.7"/><circle cx="988" cy="605" r="3.7"/><circle cx="969" cy="612" r="3.7"/><circle cx="980" cy="615" r="3.7"/><circle cx="988" cy="613" r="3.7"/><circle cx="974" cy="617" r="3.7"/>
</g>
<g fill="#fff" stroke="#a52a2a" stroke-width="1.7">
<circle cx="1021" cy="513" r="3.7"/><circle cx="1009" cy="536" r="3.7"/><circle cx="1021" cy="542" r="3.7"/><circle cx="1009" cy="562" r="3.7"/><circle cx="1021" cy="560" r="3.7"/><circle cx="1032" cy="557" r="3.7"/><circle cx="1021" cy="566" r="3.7"/><circle cx="1009" cy="572" r="3.7"/><circle cx="1032" cy="573" r="3.7"/><circle cx="1009" cy="582" r="3.7"/><circle cx="1021" cy="583" r="3.7"/><circle cx="1031" cy="587" r="3.7"/><circle cx="1021" cy="594" r="3.7"/>
</g>
<g stroke="#2a86e2" stroke-width="2"><line x1="980" y1="607" x2="980" y2="611"/><line x1="972" y1="607" x2="988" y2="607"/><line x1="972" y1="611" x2="988" y2="611"/></g>
<g stroke="#a52a2a" stroke-width="2"><line x1="1021" y1="562" x2="1021" y2="572"/><line x1="1013" y1="562" x2="1029" y2="562"/><line x1="1013" y1="572" x2="1029" y2="572"/></g>
<text x="978" y="645" font-size="13" fill="#333" text-anchor="middle">Sham</text>
<text x="1022" y="645" font-size="13" fill="#333" text-anchor="middle">Sur</text>
<text x="905" y="556" font-size="12" font-weight="bold" fill="#222" text-anchor="middle" transform="rotate(-90 905 556)"><tspan font-style="italic">I</tspan>Tonic<tspan font-size="8" dy="-5">GABA</tspan><tspan dy="5">A(pA)</tspan></text>

<!-- ================= Panel j ================= -->
<text x="20" y="713" font-size="15" fill="#222">j</text>
<text x="64" y="698" font-size="14" fill="#222" textLength="134" lengthAdjust="spacingAndGlyphs">AAV2/5-<tspan font-style="italic">GFaABC1D-</tspan></text>
<text x="64" y="715" font-size="14" fill="#222" font-style="italic" textLength="140" lengthAdjust="spacingAndGlyphs">mCherry-hPMCA2w/b</text>
<path d="M129,755 C125,751 120,751 117,752 C110,750 100,750 97,751 C88,752 82,754 77,757 C68,762 64,766 62,773 C57,782 55,790 55,797 C55,806 56,813 58,820 C61,828 65,835 70,840 C76,846 82,850 88,852 C94,854 98,855 102,855 L107,847 L112,852 C116,855 118,857 120,857 L129,858 L138,857 C141,856 144,854 147,852 L152,847 L157,853 L170,853 C176,850 182,847 187,843 C193,836 197,830 200,823 C202,815 203,808 203,800 C203,792 201,784 198,777 C194,768 189,762 183,758 C176,754 168,752 160,751 C152,750 146,751 140,752 C135,752 132,753 129,755 Z" fill="#fff" stroke="#222" stroke-width="1.6"/>
<path d="M83,795 C80,782 95,770 115,771 C122,772 126,778 129,784 C132,778 136,772 143,771 C163,770 177,782 173,795 C168,790 155,787 143,789 C136,790 132,793 129,797 C126,793 122,790 115,789 C103,787 90,790 83,795 Z" fill="#fff" stroke="#222" stroke-width="1.2"/>
<polygon points="129,779 134,786 129,794 124,786" fill="#111"/>
<path d="M110,800 L125,801 L129,797 L133,801 L148,800" fill="none" stroke="#222" stroke-width="1"/>
<path d="M97,832 C94,840 98,848 106,850 M102,828 C100,836 103,842 108,846" fill="none" stroke="#222" stroke-width="1.1"/>
<path d="M161,832 C164,840 160,848 152,850 M156,828 C158,836 155,842 150,846" fill="none" stroke="#222" stroke-width="1.1"/>
<line x1="129" y1="826" x2="129" y2="858" stroke="#222" stroke-width="1.5"/>
<line x1="109" y1="745" x2="109" y2="830" stroke="#333" stroke-width="1"/>
<line x1="148" y1="745" x2="148" y2="830" stroke="#333" stroke-width="1"/>
<rect x="106" y="729" width="6" height="16" fill="#6a1a24" stroke="#222" stroke-width="1"/>
<rect x="145" y="729" width="6" height="16" fill="#6a1a24" stroke="#222" stroke-width="1"/>
<line x1="105" y1="725" x2="113" y2="725" stroke="#222" stroke-width="1.5"/><line x1="109" y1="725" x2="109" y2="729" stroke="#222" stroke-width="1.2"/>
<line x1="144" y1="725" x2="152" y2="725" stroke="#222" stroke-width="1.5"/><line x1="148" y1="725" x2="148" y2="729" stroke="#222" stroke-width="1.2"/>
<ellipse cx="111" cy="826" rx="13" ry="4.5" fill="#e0283c" transform="rotate(28 111 826)"/>
<ellipse cx="147" cy="826" rx="13" ry="4.5" fill="#e0283c" transform="rotate(-28 147 826)"/>

<!-- ================= Panel k ================= -->
<text x="280" y="707" font-size="15" fill="#222">k</text>
<text x="404" y="712" font-size="14" fill="#222" text-anchor="middle" textLength="87" lengthAdjust="spacingAndGlyphs">Sur+mCherry</text>
<text x="679" y="711" font-size="14" fill="#222" text-anchor="middle" textLength="115" lengthAdjust="spacingAndGlyphs">Sur+hPMCA2w/b</text>
<svg x="280" y="717" width="178" height="142">
<rect width="178" height="142" fill="#1c3e7a"/>
<rect width="178" height="60" fill="#2a6a64" opacity="0.55" filter="url(#bl)"/>
<ellipse cx="70" cy="80" rx="75" ry="28" fill="#b47a48" transform="rotate(-18 70 80)" filter="url(#bl4)"/>
<ellipse cx="70" cy="80" rx="72" ry="26" fill="#000" transform="rotate(-18 70 80)" filter="url(#osp)"/>
<ellipse cx="140" cy="118" rx="45" ry="25" fill="#14236a" filter="url(#bl)"/>
<ellipse cx="80" cy="30" rx="70" ry="25" fill="#000" filter="url(#gsp)" opacity="0.7"/>
<rect width="178" height="142" filter="url(#spk)" opacity="0.35"/>
<path d="M2,68 C60,55 120,45 177,28" fill="none" stroke="#eee" stroke-width="1.2" stroke-dasharray="3,2"/>
<path d="M177,48 C130,80 90,115 41,116 C20,116 5,108 2,96" fill="none" stroke="#eee" stroke-width="1.2" stroke-dasharray="3,2"/>
<line x1="134" y1="129" x2="168" y2="129" stroke="#fff" stroke-width="2"/>
<text x="7" y="22" font-size="16" fill="#e8e8e8">ZI</text>
</svg>
<svg x="462" y="717" width="87" height="70">
<rect width="87" height="70" fill="#050505"/>
<path d="M0,30 C30,25 60,15 87,12 L87,30 C65,50 45,58 20,58 C8,56 0,50 0,45 Z" fill="#c81414" filter="url(#bl4)"/>
<path d="M0,30 C30,25 60,15 87,12 L87,30 C65,50 45,58 20,58 C8,56 0,50 0,45 Z" fill="#000" filter="url(#rsp)"/>
<path d="M0,28 C30,22 60,15 87,15" fill="none" stroke="#eee" stroke-width="1.1" stroke-dasharray="3,2"/>
<path d="M1,50 C10,58 25,58 35,54 C55,45 75,35 85,25" fill="none" stroke="#eee" stroke-width="1.1" stroke-dasharray="3,2"/>
<line x1="66" y1="61" x2="81" y2="61" stroke="#fff" stroke-width="2"/>
<text x="3" y="14" font-size="11" fill="#e8e8e8">mCherry</text>
</svg>
<svg x="462" y="790" width="87" height="69">
<rect width="87" height="69" fill="#147a14"/>
<path d="M0,25 C30,20 60,12 87,8 L87,25 C60,35 40,25 0,32 Z" fill="#052005" filter="url(#bl4)"/>
<path d="M50,69 L87,40 L87,69 Z" fill="#062a06" filter="url(#bl4)"/>
<rect width="87" height="69" filter="url(#spk)" opacity="0.5"/>
<path d="M0,25 C30,20 60,12 87,10" fill="none" stroke="#eee" stroke-width="1.1" stroke-dasharray="3,2"/>
<path d="M1,45 C8,55 22,58 35,55 C55,48 75,38 85,22" fill="none" stroke="#eee" stroke-width="1.1" stroke-dasharray="3,2"/>
<text x="3" y="15" font-size="12" fill="#e8e8e8">GAT-3</text>
</svg>
<svg x="556" y="719" width="179" height="142">
<rect width="179" height="142" fill="#1c4a7a"/>
<rect width="179" height="55" fill="#22527e" opacity="0.6" filter="url(#bl)"/>
<ellipse cx="70" cy="88" rx="72" ry="32" fill="#8ea248" transform="rotate(-15 70 88)" filter="url(#bl4)"/>
<ellipse cx="70" cy="88" rx="68" ry="30" fill="#000" transform="rotate(-15 70 88)" filter="url(#osp)" opacity="0.8"/>
<ellipse cx="50" cy="125" rx="55" ry="18" fill="#2e8a58" filter="url(#bl)"/>
<ellipse cx="150" cy="110" rx="40" ry="28" fill="#163a7a" filter="url(#bl)"/>
<ellipse cx="90" cy="30" rx="80" ry="25" fill="#000" filter="url(#gsp)" opacity="0.6"/>
<rect width="179" height="142" filter="url(#spk)" opacity="0.35"/>
<path d="M1,74 C60,60 120,45 179,34" fill="none" stroke="#eee" stroke-width="1.2" stroke-dasharray="3,2"/>
<path d="M1,97 C20,115 40,120 60,116 C100,100 140,70 179,46" fill="none" stroke="#eee" stroke-width="1.2" stroke-dasharray="3,2"/>
</svg>
<svg x="738" y="719" width="89" height="69">
<rect width="89" height="69" fill="#050505"/>
<path d="M5,30 C35,22 60,15 89,12 L89,28 C70,45 50,55 25,55 C12,52 5,45 5,40 Z" fill="#b41212" filter="url(#bl4)"/>
<path d="M5,30 C35,22 60,15 89,12 L89,28 C70,45 50,55 25,55 C12,52 5,45 5,40 Z" fill="#000" filter="url(#rsp)"/>
<path d="M0,30 C30,22 60,15 89,15" fill="none" stroke="#eee" stroke-width="1.1" stroke-dasharray="3,2"/>
<path d="M5,45 C12,55 25,57 35,54 C55,45 75,35 87,22" fill="none" stroke="#eee" stroke-width="1.1" stroke-dasharray="3,2"/>
</svg>
<svg x="738" y="792" width="89" height="69">
<rect width="89" height="69" fill="#168a16"/>
<path d="M0,28 C30,22 60,14 89,10 L89,25 C60,35 40,28 0,34 Z" fill="#083008" filter="url(#bl4)"/>
<path d="M55,69 L89,45 L89,69 Z" fill="#0a3a0a" filter="url(#bl4)"/>
<rect width="89" height="69" filter="url(#spk)" opacity="0.5"/>
<path d="M0,28 C30,22 60,14 89,12" fill="none" stroke="#eee" stroke-width="1.1" stroke-dasharray="3,2"/>
<path d="M1,48 C8,58 22,60 35,57 C55,50 75,40 87,25" fill="none" stroke="#eee" stroke-width="1.1" stroke-dasharray="3,2"/>
</svg>
<g stroke="#ccc" stroke-width="1" fill="none"><rect x="280" y="717" width="178" height="142"/><rect x="462" y="717" width="87" height="70"/><rect x="462" y="790" width="87" height="69"/><rect x="556" y="719" width="179" height="142"/><rect x="738" y="719" width="89" height="69"/><rect x="738" y="792" width="89" height="69"/></g>

<!-- k chart -->
<g stroke="#222" stroke-width="1.3">
<line x1="950" y1="709" x2="950" y2="833"/><line x1="950" y1="833" x2="1066" y2="833"/>
<line x1="945" y1="833" x2="950" y2="833"/><line x1="945" y1="791.7" x2="950" y2="791.7"/><line x1="945" y1="750.3" x2="950" y2="750.3"/><line x1="945" y1="709" x2="950" y2="709"/>
<line x1="986.5" y1="833" x2="986.5" y2="838"/><line x1="1035" y1="833" x2="1035" y2="838"/>
<line x1="986" y1="718" x2="1040" y2="718"/>
</g>
<g font-size="12" fill="#333" text-anchor="end">
<text x="942" y="837">0</text><text x="942" y="795.7">1</text><text x="942" y="754.3">2</text><text x="942" y="713">3</text>
</g>
<text x="1012" y="714" font-size="12" fill="#333" text-anchor="middle">*</text>
<rect x="969" y="791.7" width="35" height="41.3" fill="none" stroke="#2a86e2" stroke-width="2"/>
<rect x="1018" y="759.4" width="34" height="73.6" fill="none" stroke="#a52a2a" stroke-width="2"/>
<g fill="#fff" stroke="#2a86e2" stroke-width="1.7">
<circle cx="986" cy="761" r="3.5"/><circle cx="986" cy="770" r="3.5"/><circle cx="986" cy="790" r="3.5"/><circle cx="976" cy="797" r="3.5"/><circle cx="999" cy="805" r="3.5"/><circle cx="986" cy="813" r="3.5"/>
</g>
<g fill="#fff" stroke="#a52a2a" stroke-width="1.7">
<circle cx="1036" cy="728" r="3.5"/><circle cx="1036" cy="742" r="3.5"/><circle cx="1036" cy="758" r="3.5"/><circle cx="1022" cy="783" r="3.5"/><circle cx="1036" cy="777" r="3.5"/><circle cx="1049" cy="780" r="3.5"/>
</g>
<g stroke="#2a86e2" stroke-width="2"><line x1="986.5" y1="782.6" x2="986.5" y2="800.8"/><line x1="978" y1="782.6" x2="995" y2="782.6"/><line x1="978" y1="800.8" x2="995" y2="800.8"/></g>
<g stroke="#a52a2a" stroke-width="2"><line x1="1035" y1="749.9" x2="1035" y2="768.9"/><line x1="1027" y1="749.9" x2="1044" y2="749.9"/><line x1="1027" y1="768.9" x2="1044" y2="768.9"/></g>
<text x="989" y="846" font-size="12" fill="#333" text-anchor="end" transform="rotate(-45 989 846)">Sur+mCherry</text>
<text x="1038" y="846" font-size="12" fill="#333" text-anchor="end" transform="rotate(-45 1038 846)">Sur+hPMCA2w/b</text>
<text x="921" y="768" font-size="12" font-weight="bold" fill="#222" text-anchor="middle" transform="rotate(-90 921 768)" textLength="100" lengthAdjust="spacingAndGlyphs">GAT-3 intensity</text>
</svg>
</body></html>
